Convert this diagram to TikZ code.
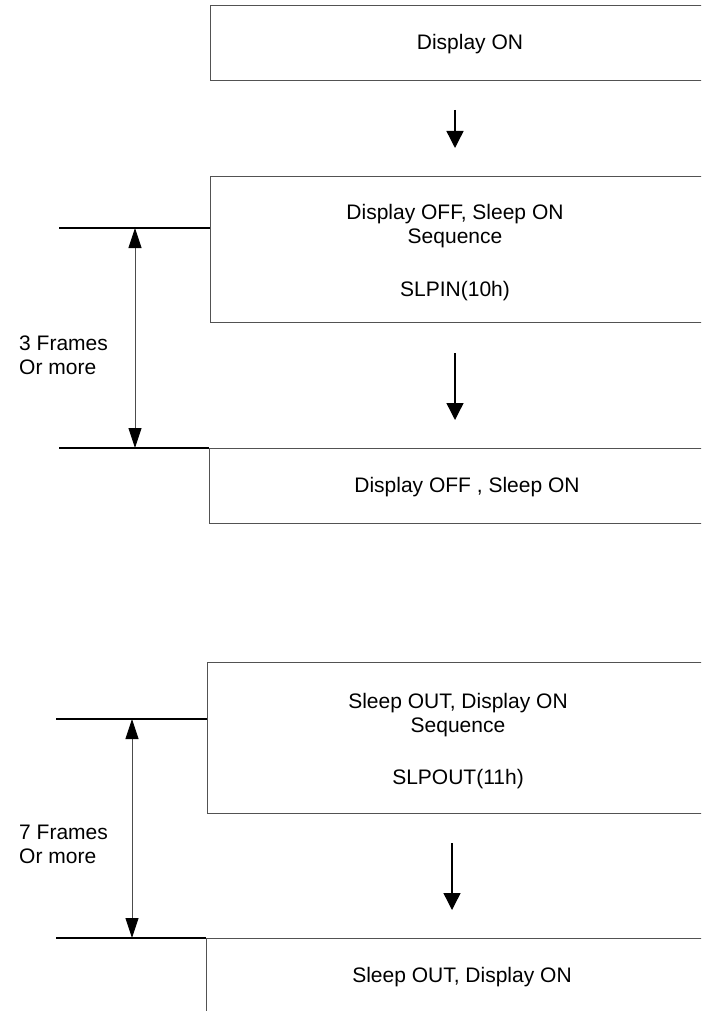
\documentclass[tikz,border=0pt]{standalone}
\usepackage{fontspec}
\setmainfont{Liberation Sans}
\usetikzlibrary{arrows.meta}
\begin{document}
\begin{tikzpicture}[x=1pt,y=-1pt,
  box/.style={draw=black!68, line width=1pt, rectangle, inner sep=0pt, anchor=north west},
  txt/.style={font=\fontsize{21}{24}\selectfont, align=center, inner sep=0pt},
  lbl/.style={font=\fontsize{21}{24}\selectfont, align=left, inner sep=0pt, anchor=west},
  dimline/.style={draw=black, line width=2pt},
  dimarrow/.style={draw=black!70, line width=0.9pt, {Triangle[width=13pt,length=20pt,color=black]}-{Triangle[width=13pt,length=20pt,color=black]}},
  flow/.style={draw=black, line width=1.4pt, -{Triangle[width=17pt,length=17pt]}}]
\useasboundingbox (0,0) rectangle (701,1011);
\clip (0,0) rectangle (701,1011);
\fill[white] (0,0) rectangle (701,1011);
% boxes
\node[box, minimum width=530pt, minimum height=75pt] (b1) at (210,5) {};
\node[box, minimum width=530pt, minimum height=146pt] (b2) at (210,176) {};
\node[box, minimum width=530pt, minimum height=75pt] (b3) at (209,448) {};
\node[box, minimum width=530pt, minimum height=151pt] (b4) at (207,662) {};
\node[box, minimum width=530pt, minimum height=120pt] (b5) at (206,938) {};
% texts
\node[txt] (t1) at (470,44) {Display ON};
\node[txt] (t2a) at (455,226) {Display OFF, Sleep ON\\Sequence};
\node[txt] (t2b) at (455,291) {SLPIN(10h)};
\node[txt] (t3) at (467,487) {Display OFF , Sleep ON};
\node[txt] (t4a) at (458,715) {Sleep OUT, Display ON\\Sequence};
\node[txt] (t4b) at (458,779) {SLPOUT(11h)};
\node[txt] (t5) at (462,977) {Sleep OUT, Display ON};
\node[lbl] (l1) at (19,355) {3 Frames\\Or more};
\node[lbl] (l2) at (19,844) {7 Frames\\Or more};
% dimension lines
\coordinate (h1) at (59,228);
\coordinate (h2) at (59,448);
\coordinate (h3) at (56,719);
\coordinate (h4) at (56,938);
\draw[dimline] (h1) -- (h1 -| b2.west);
\draw[dimline] (h2) -- (h2 -| b3.west);
\draw[dimline] (h3) -- (h3 -| b4.west);
\draw[dimline] (h4) -- (h4 -| b5.west);
\coordinate (v1a) at (135,228);
\coordinate (v1b) at (135,448);
\coordinate (v2a) at (132,719);
\coordinate (v2b) at (132,938);
\draw[dimarrow] (v1a) -- (v1b);
\draw[dimarrow] (v2a) -- (v2b);
% flow arrows
\coordinate (f1s) at (455,110);
\coordinate (f1e) at (455,148);
\coordinate (f2s) at (455,353);
\coordinate (f2e) at (455,420);
\coordinate (f3s) at (452,843);
\coordinate (f3e) at (452,910);
\draw[flow] (f1s) -- (f1e);
\draw[flow] (f2s) -- (f2e);
\draw[flow] (f3s) -- (f3e);
\end{tikzpicture}
\end{document}
